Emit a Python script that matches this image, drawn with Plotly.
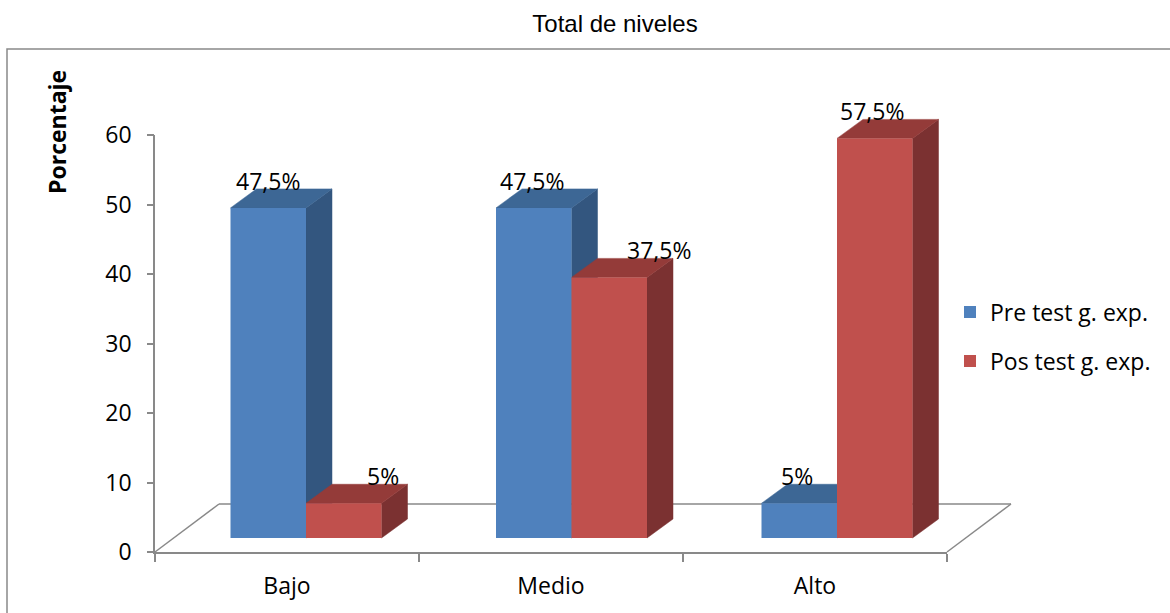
import plotly.graph_objects as go

# ---------------- data ----------------
categories = ["Bajo", "Medio", "Alto"]
series_names = ["Pre test g. exp.", "Pos test g. exp."]
pre_values = [47.5, 47.5, 5]
pos_values = [5, 37.5, 57.5]
pre_labels = ["47,5%", "47,5%", "5%"]
pos_labels = ["5%", "37,5%", "57,5%"]
y_ticks = [0, 10, 20, 30, 40, 50, 60]

# ---------------- style / geometry ----------------
W, H = 1170, 613
FONT = "Open Sans"
FS = 23
GRAY = "#898989"
BLUE, BLUE_TOP, BLUE_SIDE = "#4F81BD", "#3D6795", "#33567F"
RED, RED_TOP, RED_SIDE = "#C0504D", "#943B39", "#7B3131"

def fx(p):
    return p / W

def fy(p):
    return 1 - p / H

# visible axes box (pixels)
AX_L, AX_R, AX_B, AX_T = 155, 947, 552, 135
y_px_per_unit = (AX_B - AX_T) / 60.0
# bars subplot: pixel anchors
BAR_ZERO_Y = 538          # pixel of value 0 for the bars
BAR_CENTER0_X = 306       # pixel of first category centre for bars
BAR_UX = 265.5            # pixels per category
BOX_L, BOX_R, BOX_T, BOX_B = 150, 1040, 90, 565
bx_range = [(BOX_L - BAR_CENTER0_X) / BAR_UX, (BOX_R - BAR_CENTER0_X) / BAR_UX]
by_range = [-(BOX_B - BAR_ZERO_Y) / y_px_per_unit, (BAR_ZERO_Y - BOX_T) / y_px_per_unit]

BAR_W = 75.5 / BAR_UX
DEPTH_X = 26 / BAR_UX
DEPTH_Y = 19 / y_px_per_unit
FLOOR_DX, FLOOR_DY = 64, 48

pre_label_xshift = [0, -2, -2]
pos_label_xshift = [39, 50, -3]
LABEL_YSHIFT = 27

fig = go.Figure()

def faces(values, x_offset):
    top_x, top_y, side_x, side_y = [], [], [], []
    for i, v in enumerate(values):
        x0 = i + x_offset
        x1 = x0 + BAR_W
        top_x += [x0, x1, x1 + DEPTH_X, x0 + DEPTH_X, x0, None]
        top_y += [v, v, v + DEPTH_Y, v + DEPTH_Y, v, None]
        side_x += [x1, x1 + DEPTH_X, x1 + DEPTH_X, x1, x1, None]
        side_y += [0, DEPTH_Y, v + DEPTH_Y, v, 0, None]
    return top_x, top_y, side_x, side_y

# depth faces (subplot x2/y2, under the bars)
for vals, off, ctop, cside in [(pre_values, -BAR_W, BLUE_TOP, BLUE_SIDE),
                               (pos_values, 0.0, RED_TOP, RED_SIDE)]:
    tx, ty, sx, sy = faces(vals, off)
    fig.add_trace(go.Scatter(x=sx, y=sy, mode="lines", fill="toself", fillcolor=cside,
                             line=dict(width=0.5, color=cside), hoverinfo="skip",
                             showlegend=False, xaxis="x2", yaxis="y2"))
    fig.add_trace(go.Scatter(x=tx, y=ty, mode="lines", fill="toself", fillcolor=ctop,
                             line=dict(width=0.5, color=ctop), hoverinfo="skip",
                             showlegend=False, xaxis="x2", yaxis="y2"))

# front faces as bars (subplot x3/y3 overlaying x2/y2)
xs = list(range(len(categories)))
fig.add_trace(go.Bar(x=xs, y=pre_values, name=series_names[0], width=BAR_W, offset=-BAR_W,
                     marker=dict(color=BLUE, line=dict(width=0)), xaxis="x3", yaxis="y3",
                     legend="legend"))
fig.add_trace(go.Bar(x=xs, y=pos_values, name=series_names[1], width=BAR_W, offset=0,
                     marker=dict(color=RED, line=dict(width=0)), xaxis="x3", yaxis="y3",
                     legend="legend2"))

# invisible traces to hold the visible axes
fig.add_trace(go.Scatter(x=xs, y=[None] * 3, mode="markers", showlegend=False,
                         hoverinfo="skip", xaxis="x", yaxis="y"))
fig.add_trace(go.Scatter(x=xs, y=[None] * 3, mode="markers", showlegend=False,
                         hoverinfo="skip", xaxis="x", yaxis="y4"))

# data labels
for vals, labs, off, xsh in [(pre_values, pre_labels, -BAR_W / 2, pre_label_xshift),
                             (pos_values, pos_labels, BAR_W / 2, pos_label_xshift)]:
    for i, (v, t) in enumerate(zip(vals, labs)):
        fig.add_annotation(x=i + off, y=v, xref="x3", yref="y3", text=t, showarrow=False,
                           xanchor="center", yanchor="middle", yshift=LABEL_YSHIFT, xshift=xsh[i],
                           font=dict(family=FONT, size=FS, color="black"))

# floor (3D base) lines
floor_pts = [(AX_L, AX_B), (AX_L + FLOOR_DX, AX_B - FLOOR_DY),
             (AX_R + FLOOR_DX, AX_B - FLOOR_DY), (AX_R, AX_B)]
for (a, b) in zip(floor_pts[:-1], floor_pts[1:]):
    fig.add_shape(type="line", xref="paper", yref="paper", x0=fx(a[0]), y0=fy(a[1]),
                  x1=fx(b[0]), y1=fy(b[1]), line=dict(color=GRAY, width=1.5), layer="below")

# outer border
fig.add_shape(type="rect", xref="paper", yref="paper", x0=fx(7), y0=fy(49), x1=fx(1185), y1=fy(630),
              line=dict(color=GRAY, width=1.5), layer="below")

# y axis title
fig.add_annotation(x=fx(57), y=fy(132), xref="paper", yref="paper", text="<b>Porcentaje</b>",
                   textangle=-90, showarrow=False, xanchor="center", yanchor="middle",
                   font=dict(family=FONT, size=23, color="black"))

fig.update_layout(
    width=W, height=H, margin=dict(l=0, r=0, t=0, b=0, pad=0, autoexpand=False),
    paper_bgcolor="white", plot_bgcolor="rgba(0,0,0,0)",
    font=dict(family=FONT, color="black"),
    title=dict(text="Total de niveles", x=fx(615), y=fy(24), xanchor="center", yanchor="middle",
               xref="paper", yref="paper", automargin=False,
               font=dict(family="Liberation Sans, Arial", size=24, color="black")),
    barmode="overlay",
    xaxis=dict(domain=[fx(AX_L), fx(AX_R)], range=[-0.5, 2.5], tickmode="array",
               tickvals=xs, ticktext=categories, ticks="", showline=True, linecolor=GRAY,
               linewidth=1.5, showgrid=False, zeroline=False, ticklabelstandoff=13,
               tickfont=dict(family=FONT, size=FS, color="black"), automargin=False,
               minor=dict(tickmode="array", tickvals=[-0.5, 0.5, 1.5, 2.5], ticks="outside",
                          ticklen=8, tickcolor=GRAY, tickwidth=1.5, showgrid=False),
               anchor="y", fixedrange=True),
    # labels of the value axis (transparent long ticks push the labels outwards)
    yaxis=dict(domain=[fy(AX_B), fy(AX_T)], range=[0, 60], tickmode="array", tickvals=y_ticks,
               ticks="outside", ticklen=17, tickcolor="rgba(0,0,0,0)", showline=True,
               linecolor=GRAY, linewidth=1.5, showgrid=False, zeroline=False, automargin=False,
               tickfont=dict(family=FONT, size=FS, color="black"),
               anchor="x", fixedrange=True),
    # visible short tick marks of the value axis
    yaxis4=dict(range=[0, 60], overlaying="y", anchor="x", side="left", tickmode="array",
                tickvals=y_ticks, ticks="outside", ticklen=7, tickcolor=GRAY, tickwidth=1.5,
                showticklabels=False, showline=False, showgrid=False, zeroline=False,
                automargin=False, fixedrange=True),
    xaxis2=dict(domain=[fx(BOX_L), fx(BOX_R)], range=bx_range, visible=False, anchor="y2"),
    yaxis2=dict(domain=[fy(BOX_B), fy(BOX_T)], range=by_range, visible=False, anchor="x2"),
    xaxis3=dict(range=bx_range, visible=False, overlaying="x2", anchor="y3"),
    yaxis3=dict(range=by_range, visible=False, overlaying="y2", anchor="x3"),
    legend=dict(x=fx(950), y=fy(312), xanchor="left", yanchor="middle",
                font=dict(family=FONT, size=FS, color="black"), bgcolor="rgba(0,0,0,0)"),
    legend2=dict(x=fx(950), y=fy(361), xanchor="left", yanchor="middle",
                 font=dict(family=FONT, size=FS, color="black"), bgcolor="rgba(0,0,0,0)"),
    showlegend=True,
)

fig.write_html("out.html")
